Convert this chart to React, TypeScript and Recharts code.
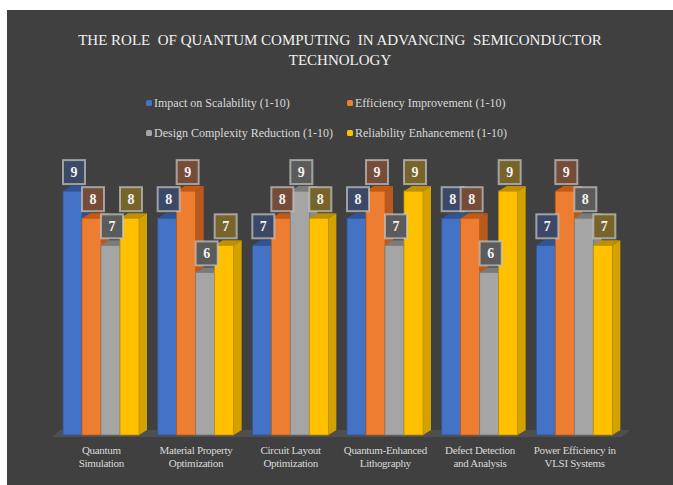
import { BarChart, Bar, XAxis, YAxis, Legend, LabelList, ReferenceArea } from 'recharts'

const categories = [
  'Quantum Simulation',
  'Material Property Optimization',
  'Circuit Layout Optimization',
  'Quantum-Enhanced Lithography',
  'Defect Detection and Analysis',
  'Power Efficiency in VLSI Systems',
]
const categoryLines = [
  ['Quantum', 'Simulation'],
  ['Material Property', 'Optimization'],
  ['Circuit Layout', 'Optimization'],
  ['Quantum-Enhanced', 'Lithography'],
  ['Defect Detection', 'and Analysis'],
  ['Power Efficiency in', 'VLSI Systems'],
]
const scalability = [9, 8, 7, 8, 8, 7]
const efficiency = [8, 9, 8, 9, 8, 9]
const complexity = [7, 6, 9, 7, 6, 8]
const reliability = [8, 7, 8, 9, 9, 7]

const series = [
  { key: 'scalability', name: 'Impact on Scalability (1-10)', color: '#4472C4', top: '#2F5597', side: '#2E4F8C', label: '#3c4966' },
  { key: 'efficiency', name: 'Efficiency Improvement (1-10)', color: '#ED7D31', top: '#C55A11', side: '#B85A1C', label: '#744c38' },
  { key: 'complexity', name: 'Design Complexity Reduction (1-10)', color: '#A5A5A5', top: '#7B7B7B', side: '#8A8A8A', label: '#5b5b5b' },
  { key: 'reliability', name: 'Reliability Enhancement (1-10)', color: '#FFC000', top: '#BF9000', side: '#D4A200', label: '#76642a' },
]

const data = categories.map((name, i) => ({
  name,
  scalability: scalability[i],
  efficiency: efficiency[i],
  complexity: complexity[i],
  reliability: reliability[i],
}))

const FONT = '"Liberation Serif", "Times New Roman", serif'
const DX = 8
const DY = 5

type S = (typeof series)[number]

const makeShape = (s: S) => (props: any) => {
  const { x, y, width: w, height: h } = props
  if (h == null || h <= 0) return <g />
  return (
    <g>
      <polygon points={`${x + w},${y} ${x + w + DX},${y - DY} ${x + w + DX},${y + h - DY} ${x + w},${y + h}`} fill={s.side} />
      <polygon points={`${x},${y} ${x + DX},${y - DY} ${x + w + DX},${y - DY} ${x + w},${y}`} fill={s.top} />
      <rect x={x} y={y} width={w} height={h} fill={s.color} stroke={s.top} strokeWidth={0.8} />
    </g>
  )
}

const makeLabel = (s: S) => (props: any) => {
  const { x, y, width, value } = props
  const bx = Number(x) + Number(width) / 2 - 11 + 1.5
  const by = Number(y) - 31
  return (
    <g>
      <rect x={bx} y={by} width={22} height={24} fill={s.label} stroke="#c8c8c8" strokeOpacity={0.7} strokeWidth={2} />
      <text x={bx + 11} y={by + 17} textAnchor="middle" fill="#f2f2f2" fontFamily={FONT} fontSize={14} fontWeight="bold">
        {value}
      </text>
    </g>
  )
}

const FloorShape = (props: any) => {
  const { x, y, width: w, height: h } = props
  const b = y + h
  return <polygon points={`${x - 2},${b + 2} ${x + w},${b + 2} ${x + w + DX},${b - DY} ${x + 6},${b - DY}`} fill="#4f4f4f" />
}

const renderTick = (props: any) => {
  const { x, y, index } = props
  const lines = categoryLines[index] ?? []
  return (
    <text x={x} y={y + 11} textAnchor="middle" fill="#d9d9d9" fontFamily={FONT} fontSize={11} letterSpacing={-0.3}>
      {lines.map((l, i) => (
        <tspan key={i} x={x} dy={i === 0 ? 0 : 13}>{l}</tspan>
      ))}
    </text>
  )
}

const renderLegend = () => (
  <div style={{ display: 'grid', gridTemplateColumns: '201px 200px', rowGap: 12, marginLeft: 139, fontFamily: FONT, fontSize: 12, color: '#d9d9d9' }}>
    {series.map(s => (
      <div key={s.key} style={{ display: 'flex', alignItems: 'center', height: 18, whiteSpace: 'nowrap' }}>
        <span style={{ width: 6, height: 6, borderRadius: 1.5, background: s.color, marginRight: 2, display: 'inline-block' }} />
        <span>{s.name}</span>
      </div>
    ))}
  </div>
)

export default function App() {
  return (
    <div style={{ position: 'fixed', left: 7, top: 10, width: 666, height: 475, background: '#404040' }}>
      <div style={{ position: 'absolute', top: 20, left: 0, width: 666, textAlign: 'center', fontFamily: FONT, fontSize: 15, lineHeight: '20px', color: '#f2f2f2', whiteSpace: 'pre' }}>
        {'THE ROLE  OF QUANTUM COMPUTING  IN ADVANCING  SEMICONDUCTOR'}
        <br />
        TECHNOLOGY
      </div>
      <BarChart width={666} height={475} data={data} margin={{ top: 154, right: 51, bottom: 10, left: 47 }} barCategoryGap={9} barGap={0}>
        <XAxis dataKey="name" axisLine={false} tickLine={false} height={40} interval={0} tick={renderTick} />
        <YAxis hide domain={[0, 10]} />
        <ReferenceArea y1={0} y2={0.2} shape={FloorShape} ifOverflow="visible" />
        <Legend layout="vertical" align="center" verticalAlign="middle" content={renderLegend} wrapperStyle={{ top: 84, left: 0, width: 666 }} />
        {series.map(s => (
          <Bar key={s.key} dataKey={s.key} name={s.name} fill={s.color} shape={makeShape(s)} isAnimationActive={false}>
            <LabelList dataKey={s.key} content={makeLabel(s)} />
          </Bar>
        ))}
      </BarChart>
    </div>
  )
}
